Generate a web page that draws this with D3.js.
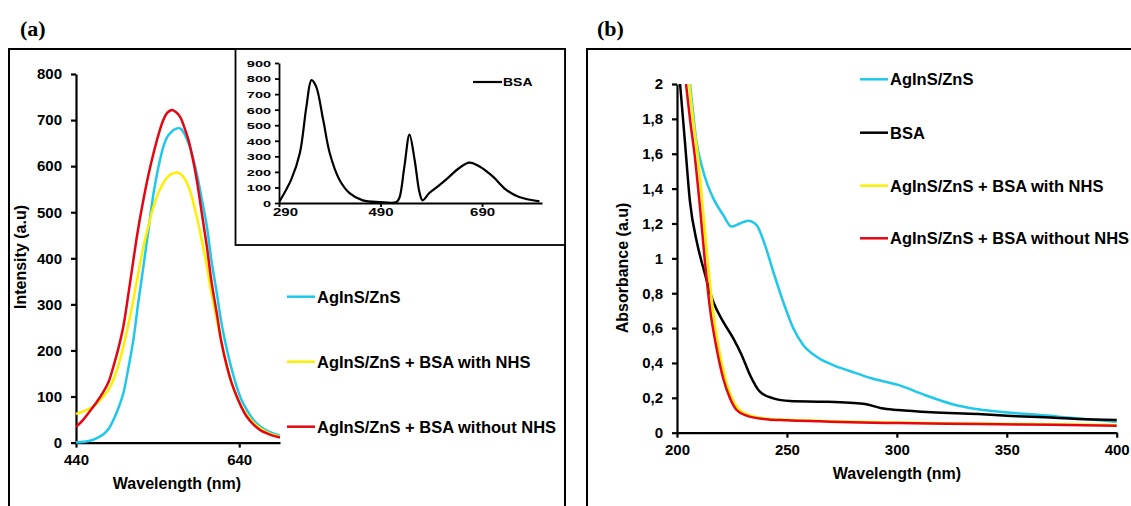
<!DOCTYPE html>
<html><head><meta charset="utf-8">
<script src="https://cdn.jsdelivr.net/npm/d3@7"></script>
<style>
body{margin:0;background:#fff;}
text{font-family:"Liberation Sans",Arial,sans-serif;font-weight:bold;fill:#000;}
</style></head>
<body><svg id="c" width="1131" height="506"></svg>
<script>
// ---------- Panel (a): emission spectra ----------
const aCyanW = [440,457,465,473.5,480,485.8,492,498,504,510.3,516,522.6,529,535,541,547,552,557.4,562,567.6,572,577.8,583,588,594,600.4,606,612.6,618,625,631,637,643,649.4,657,665.8,677,690];
const aCyan  = [0,4,9,18,30,49,75,107,160,223,300,382,465,541,598,642,664,675,681,682,673,650,620,584,530,469,395,324,262,201,158,121,92,71,50,35,23,15];
const aYellowW = [440,457,465,473.5,480,485.8,492,498,504,510.3,516,522.6,529,535,541,547,552,557.4,564,569,574,580,588,594,600.4,606,612.6,619,625,631,637,643,649.4,657,665.8,677,690];
const aYellow  = [62,74,84,100,115,136,168,208,255,309,365,425,472,512,542,563,576,583,586,582,570,545,490,440,382,325,266,212,165,128,100,77,60,44,31,20,13];
const aRedW = [440,449,457,465,473.5,480,485.8,492,498,504,510.3,516,522.6,529,535,541,547,552,557.4,562,567.6,572,577.8,583,588,594,600.4,606,612.6,618,625,631,637,643,649.4,657,665.8,677,690];
const aRed  = [34,50,68,87,110,132,165,205,252,320,396,462,527,583,628,668,700,716,722,718,707,688,657,617,570,500,425,350,280,220,165,128,100,76,56,40,27,18,11];
const aLegend = ["AgInS/ZnS","AgInS/ZnS + BSA with NHS","AgInS/ZnS + BSA without NHS"];
const aYTicks = [0,100,200,300,400,500,600,700,800];
const aXTicks = [440,640];

// ---------- Inset: BSA emission ----------
const insWave = [291,314,331,344,354,363,377,390,409,429,455,488,521,527,537,547,557,567,573,586,603,619,645,665,685,711,737,763,803];
const insBSA  = [10,150,320,620,790,750,535,320,150,64,17,6,6,32,235,440,280,64,17,64,107,150,225,260,235,171,86,39,11];
const insYTicks = [0,100,200,300,400,500,600,700,800,900];
const insXTicks = [290,490,690];

// ---------- Panel (b): absorbance ----------
const bBlackW = [201.4,203.6,205.9,209,212,216.5,221,225.6,229.4,233.2,237.7,243.8,251.4,265,278.6,285.5,293,300.6,315.8,337,352,367.3,382.3,400];
const bBlack  = [2.0,1.67,1.325,1.095,0.943,0.751,0.637,0.541,0.446,0.331,0.235,0.197,0.182,0.178,0.172,0.165,0.14,0.13,0.117,0.107,0.096,0.088,0.079,0.073];
const bCyanW = [205.9,207.2,208.5,212,216.5,221,224.8,228.6,232.4,236.2,240,243.8,248.3,252.9,257.4,263.5,271,278.6,288.5,300.6,312.7,324.9,337,349.2,361.2,373.3,385.5,400];
const bCyan  = [2.0,1.85,1.70,1.497,1.344,1.249,1.182,1.20,1.216,1.191,1.077,0.923,0.751,0.599,0.503,0.436,0.388,0.354,0.312,0.274,0.216,0.165,0.134,0.117,0.106,0.092,0.079,0.063];
const bYellowW = [205.6,207.3,209.6,211.8,214,216.3,219,222,225,228,232.5,240,250,265,280,300,337,370,400];
const bYellow  = [2.0,1.80,1.574,1.287,0.981,0.713,0.484,0.312,0.197,0.135,0.102,0.082,0.074,0.068,0.063,0.058,0.053,0.048,0.044];
const bRedW = [204.1,205.9,208.2,210.5,212.7,215,218,221,224.1,227.1,231.7,239.2,249.9,265,278.6,300,337,370,400];
const bRed  = [2.0,1.80,1.574,1.287,0.981,0.713,0.484,0.312,0.197,0.130,0.098,0.079,0.071,0.065,0.060,0.055,0.050,0.045,0.040];
const bLegend = ["AgInS/ZnS","BSA","AgInS/ZnS + BSA with NHS","AgInS/ZnS + BSA without NHS"];
const bYTicks = [0,0.2,0.4,0.6,0.8,1,1.2,1.4,1.6,1.8,2];
const bXTicks = [200,250,300,350,400];

const CYAN="#1ec8ea", YELLOW="#ffee00", RED="#e30613", BLACK="#000";

const svg = d3.select("#c");
const fmtComma = d => String(d).replace(".", ",");

function styleAxis(g, w){
  g.selectAll(".domain").attr("stroke","#000").attr("stroke-width",w);
  g.selectAll(".tick line").attr("stroke","#000").attr("stroke-width",w);
  g.selectAll("text").attr("font-family","Liberation Sans, Arial, sans-serif").attr("font-weight","bold").attr("fill","#000");
}
function series(g, xs, ys, x, y, color, w, curve){
  const line = d3.line().x(d=>x(d[0])).y(d=>y(d[1])).curve(curve);
  g.append("path").datum(xs.map((v,i)=>[v,ys[i]]))
    .attr("d",line).attr("fill","none").attr("stroke",color).attr("stroke-width",w)
    .attr("stroke-linejoin","round");
}

// ===== Panel (a) =====
svg.append("text").attr("x",20).attr("y",36).text("(a)")
  .style("font-family","Liberation Serif, Times New Roman, serif").style("font-size","22px");
svg.append("rect").attr("x",9).attr("y",49).attr("width",556).attr("height",480)
  .attr("fill","none").attr("stroke","#000").attr("stroke-width",2);

const ax = d3.scaleLinear().domain([440,690]).range([76,280]);
const ay = d3.scaleLinear().domain([0,800]).range([442.6,74]);
const ga = svg.append("g");
const aYAxis = ga.append("g").attr("transform","translate(76,0)")
  .call(d3.axisLeft(ay).tickValues(aYTicks).tickSize(5).tickPadding(9).tickSizeOuter(0));
aYAxis.selectAll("text").style("font-size","15px");
styleAxis(aYAxis, 2.2);
const aXAxis = ga.append("g").attr("transform","translate(0,442.6)")
  .call(d3.axisBottom(ax).tickValues(aXTicks).tickSize(5).tickPadding(7).tickSizeOuter(0));
aXAxis.selectAll("text").style("font-size","15px");
styleAxis(aXAxis, 2.2);
ga.append("text").attr("x",177).attr("y",489).attr("text-anchor","middle").style("font-size","16px").text("Wavelength (nm)");
ga.append("text").attr("transform","translate(26,257) rotate(-90)").attr("text-anchor","middle").style("font-size","16px").text("Intensity (a.u)");

const curveA = d3.curveCatmullRom.alpha(0.5);
series(ga, aCyanW, aCyan, ax, ay, CYAN, 2.5, curveA);
series(ga, aYellowW, aYellow, ax, ay, YELLOW, 2.5, curveA);
series(ga, aRedW, aRed, ax, ay, RED, 2.5, curveA);

const aColors=[CYAN,YELLOW,RED], aLegY=[296.7,361.7,426.7];
aLegend.forEach((t,i)=>{
  ga.append("line").attr("x1",287).attr("x2",315).attr("y1",aLegY[i]).attr("y2",aLegY[i]).attr("stroke",aColors[i]).attr("stroke-width",2.5);
  ga.append("text").attr("x",317).attr("y",aLegY[i]+6).style("font-size","16.5px").text(t);
});

// ===== Inset =====
const gi = svg.append("g");
gi.append("rect").attr("x",235.5).attr("y",49).attr("width",329.5).attr("height",196)
  .attr("fill","#fff").attr("stroke","#000").attr("stroke-width",1.8);
const ix = d3.scaleLinear().domain([290,808]).range([279,542]);
const iy = d3.scaleLinear().domain([0,900]).range([203,63]);
const iYAxis = gi.append("g").attr("transform","translate(279,0)")
  .call(d3.axisLeft(iy).tickValues(insYTicks).tickSize(4).tickPadding(4).tickSizeOuter(0));
styleAxis(iYAxis, 1.8);
iYAxis.selectAll("text").style("font-size","14.5px").attr("transform","scale(1,0.68)").attr("dy","0.34em");
const iXAxis = gi.append("g").attr("transform","translate(0,203)")
  .call(d3.axisBottom(ix).tickValues(insXTicks).tickSize(4).tickPadding(4).tickSizeOuter(0));
styleAxis(iXAxis, 1.8);
iXAxis.selectAll("text").style("font-size","15px").attr("transform","scale(1,0.72)").attr("y",7).attr("dy","0.71em")
  .attr("x", d => d === 290 ? 6 : 0);
series(gi, insWave, insBSA, ix, iy, BLACK, 2.2, d3.curveCatmullRom.alpha(0.5));
gi.append("line").attr("x1",473).attr("x2",502).attr("y1",82).attr("y2",82).attr("stroke","#000").attr("stroke-width",2.2);
gi.append("text").attr("transform","translate(503,86) scale(1,0.72)").style("font-size","14px").text("BSA");

// ===== Panel (b) =====
svg.append("text").attr("x",597).attr("y",36).text("(b)")
  .style("font-family","Liberation Serif, Times New Roman, serif").style("font-size","22px");
svg.append("rect").attr("x",587).attr("y",49).attr("width",600).attr("height",480)
  .attr("fill","none").attr("stroke","#000").attr("stroke-width",2);
const bx = d3.scaleLinear().domain([200,400]).range([677,1116.7]);
const by = d3.scaleLinear().domain([0,2]).range([432.7,84]);
const gb = svg.append("g");
const bYAxis = gb.append("g").attr("transform","translate(677,0)")
  .call(d3.axisLeft(by).tickValues(bYTicks).tickFormat(fmtComma).tickSize(5).tickPadding(9).tickSizeOuter(0));
bYAxis.selectAll("text").style("font-size","15px");
styleAxis(bYAxis, 2.2);
const bXAxis = gb.append("g").attr("transform","translate(0,432.7)")
  .call(d3.axisBottom(bx).tickValues(bXTicks).tickSize(5).tickPadding(7).tickSizeOuter(0));
bXAxis.selectAll("text").style("font-size","15px");
styleAxis(bXAxis, 2.2);
gb.append("text").attr("x",897).attr("y",479).attr("text-anchor","middle").style("font-size","16px").text("Wavelength (nm)");
gb.append("text").attr("transform","translate(628,268) rotate(-90)").attr("text-anchor","middle").style("font-size","16px").text("Absorbance (a.u)");

const curveB = d3.curveMonotoneX;
series(gb, bCyanW, bCyan, bx, by, CYAN, 2.5, curveB);
series(gb, bBlackW, bBlack, bx, by, BLACK, 2.5, curveB);
series(gb, bYellowW, bYellow, bx, by, YELLOW, 2.5, curveB);
series(gb, bRedW, bRed, bx, by, RED, 2.5, curveB);

const bColors=[CYAN,BLACK,YELLOW,RED], bLegY=[79.3,132.7,185.7,238.3];
bLegend.forEach((t,i)=>{
  gb.append("line").attr("x1",860).attr("x2",888).attr("y1",bLegY[i]).attr("y2",bLegY[i]).attr("stroke",bColors[i]).attr("stroke-width",2.5);
  gb.append("text").attr("x",890).attr("y",bLegY[i]+6).style("font-size","16.5px").text(t);
});
</script></body></html>
